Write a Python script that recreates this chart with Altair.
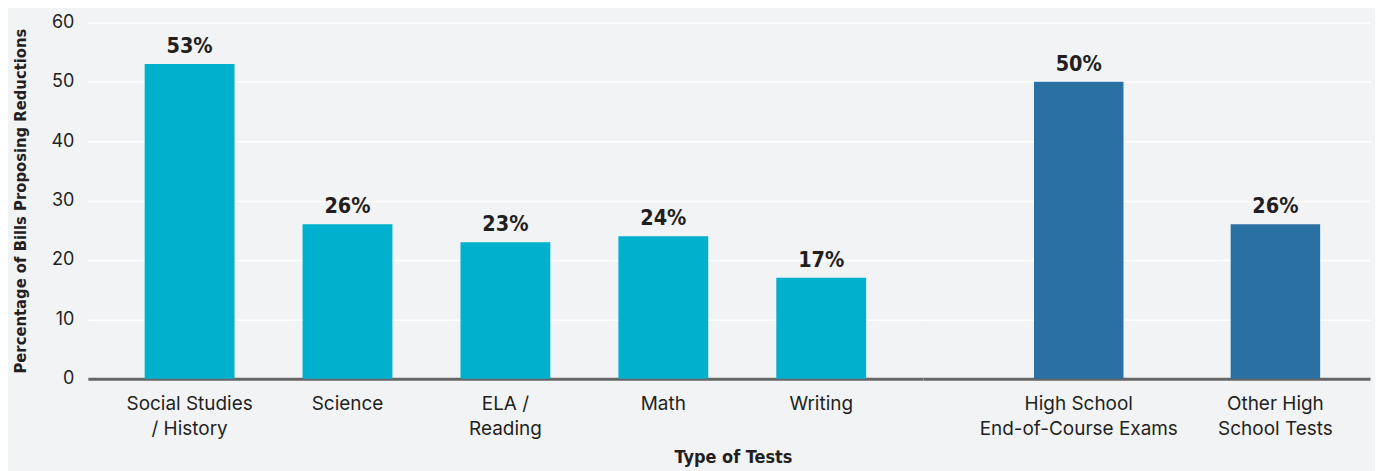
import altair as alt
import pandas as pd

# ---- data ----
categories = [
    "Social Studies|/ History",
    "Science",
    "ELA /|Reading",
    "Math",
    "Writing",
    "High School|End-of-Course Exams",
    "Other High|School Tests",
]
values = [53, 26, 23, 24, 17, 50, 26]
groups = ["Subject", "Subject", "Subject", "Subject", "Subject", "High School", "High School"]
y_ticks = [0, 10, 20, 30, 40, 50, 60]

colors = {"Subject": "#00b0cc", "High School": "#2b70a3"}

df = pd.DataFrame({"category": categories, "value": values, "group": groups})

TEXT = "#231f20"
LABEL_FONT = "Inter"
BOLD_FONT = "'Liberation Sans Narrow', 'DejaVu Sans Condensed', 'Arial Narrow', sans-serif"
H = 357


def panel(group, width, scale_kw, left):
    cats = [c for c, g in zip(categories, groups) if g == group]
    base = alt.Chart(df).transform_filter(alt.datum.group == group)
    x = alt.X(
        "category:N",
        sort=cats,
        scale=alt.Scale(**scale_kw),
        axis=alt.Axis(
            title=None,
            labelAngle=0,
            labelExpr="split(datum.label, '|')",
            labelFont=LABEL_FONT,
            labelFontSize=19,
            labelLineHeight=25,
            labelColor=TEXT,
            labelPadding=16,
            labelBaseline="top",
            labelLimit=400,
            ticks=False,
            domainColor="#666666",
            domainWidth=3,
        ),
    )
    if left:
        yaxis = alt.Axis(
            title="Percentage of Bills Proposing Reductions",
            titleFont=BOLD_FONT,
            titleFontWeight="bold",
            titleFontSize=16.5,
            titleColor=TEXT,
            titlePadding=22,
            values=y_ticks,
            labelFont=LABEL_FONT,
            labelFontSize=18,
            labelColor=TEXT,
            labelPadding=14,
            ticks=False,
            domain=False,
            grid=True,
            gridColor="white",
            gridWidth=1.5,
        )
    else:
        yaxis = alt.Axis(
            title=None,
            values=y_ticks,
            labels=False,
            ticks=False,
            domain=False,
            grid=True,
            gridColor="white",
            gridWidth=1.5,
        )
    y = alt.Y("value:Q", scale=alt.Scale(domain=[0, 60]), axis=yaxis)
    bars = base.mark_bar(color=colors[group]).encode(x=x, y=y)
    text = (
        base.transform_calculate(lbl="datum.value + '%'")
        .mark_text(
            font=BOLD_FONT,
            fontWeight="bold",
            fontSize=21.5,
            color=TEXT,
            baseline="alphabetic",
            dy=-11,
        )
        .encode(x=x, y=y, text="lbl:N")
    )
    return alt.layer(bars, text).properties(width=width, height=H)


left = panel("Subject", 837, dict(paddingInner=0.431, paddingOuter=0.36), True)
right = panel("High School", 448, dict(paddingInner=0.545, paddingOuter=0.409, align=0.69), False)

chart = (
    alt.hconcat(left, right, spacing=0)
    .properties(
        title=alt.TitleParams(
            "Type of Tests",
            orient="bottom",
            anchor="middle",
            font=BOLD_FONT,
            fontWeight="bold",
            fontSize=18,
            color=TEXT,
            offset=10,
            dx=42,
        )
    )
    .configure(background="#f2f3f5")
    .configure_view(stroke=None)
)

chart.save("out.html", embed_options={"renderer": "svg", "actions": False})
